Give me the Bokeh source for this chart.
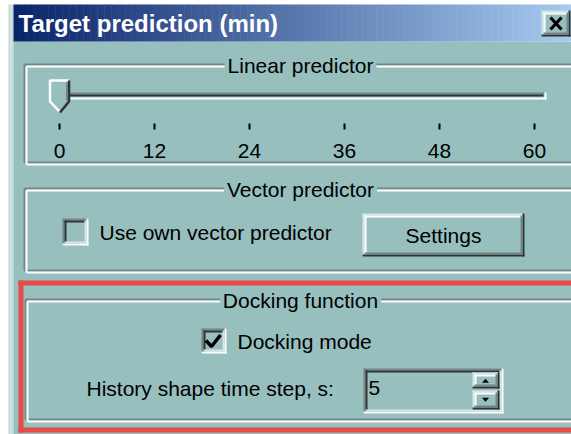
import numpy as np
from bokeh.plotting import figure
from bokeh.models import Range1d
from bokeh.core.properties import value
from bokeh.embed import file_html
from bokeh.resources import INLINE

# ---------------- content (data) ----------------
dialog_title = "Target prediction (min)"
group_titles = ["Linear predictor", "Vector predictor", "Docking function"]
slider_ticks = [0, 12, 24, 36, 48, 60]
slider_tick_labels = ["0", "12", "24", "36", "48", "60"]
slider_value = 0
checkbox_labels = ["Use own vector predictor", "Docking mode"]
checkbox_checked = [False, True]
button_label = "Settings"
spin_label = "History shape time step, s:"
spin_value = 5

# ---------------- style ----------------
BG = "#97BFBE"
SHADOW = "#728685"
DARK = "#2E3434"
WHITE = "#FFFFFF"
LIGHT = "#D6E4E3"
RED = "#E64B47"
FONT = value("Liberation Sans")
FS = "21px"

p = figure(width=571, height=434, x_range=Range1d(0, 571), y_range=Range1d(434, 0),
           output_backend="svg", toolbar_location=None, min_border=0,
           x_axis_type=None, y_axis_type=None)
p.grid.visible = False
p.outline_line_color = None
p.background_fill_color = "white"
p.border_fill_color = "white"


def box(x0, y0, x1, y1, color):
    p.quad(left=[x0], right=[x1], top=[y0], bottom=[y1], fill_color=color, line_color=None)


def seg(x0, y0, x1, y1, color, w=2):
    p.segment(x0=[x0], y0=[y0], x1=[x1], y1=[y1], line_color=color, line_width=w)


def bevel(x0, y0, x1, y1, tl_out, tl_in, br_out, br_in):
    seg(x0, y0 + 1, x1, y0 + 1, tl_out)
    seg(x0 + 1, y0, x0 + 1, y1, tl_out)
    seg(x0 + 2, y0 + 3, x1 - 2, y0 + 3, tl_in)
    seg(x0 + 3, y0 + 2, x0 + 3, y1 - 2, tl_in)
    seg(x0, y1 - 1, x1, y1 - 1, br_out)
    seg(x1 - 1, y0, x1 - 1, y1, br_out)
    seg(x0 + 2, y1 - 3, x1 - 2, y1 - 3, br_in)
    seg(x1 - 3, y0 + 2, x1 - 3, y1 - 2, br_in)


def raised(x0, y0, x1, y1):
    bevel(x0, y0, x1, y1, LIGHT, WHITE, DARK, SHADOW)


def sunken(x0, y0, x1, y1):
    bevel(x0, y0, x1, y1, SHADOW, DARK, WHITE, LIGHT)


def etched(x0, y0, x1, y1, title):
    for off, c in ((0, SHADOW), (2, WHITE)):
        seg(x0 + off, y0 + off, x1, y0 + off, c)
        seg(x0 + off, y0 + off, x0 + off, y1 + off, c)
        seg(x0 + off, y1 + off, x1, y1 + off, c)
    p.text(x=[300], y=[y0 + 1], text=[title], text_font=FONT, text_font_size=FS,
           text_align="center", text_baseline="middle", text_color="black",
           background_fill_color=BG, padding=3)


# window frame and client area
box(8, 4, 13, 434, "#C3D7D6")
box(10, 4, 11, 434, "#E6EFEE")
box(13, 41, 571, 434, BG)

# title bar gradient
n = 160
edges = np.linspace(13, 571, n + 1)
c0 = np.array([0x0A, 0x24, 0x6A])
c1 = np.array([0xA6, 0xCA, 0xF0])
cols = []
for i in range(n):
    t = i / (n - 1)
    c = (c0 + (c1 - c0) * t).astype(int)
    cols.append("#%02x%02x%02x" % tuple(c))
p.quad(left=edges[:-1], right=edges[1:] + 0.5, top=4, bottom=41, fill_color=cols, line_color=None)
p.text(x=[18], y=[23], text=[dialog_title], text_font=FONT, text_font_size="24px",
       text_font_style="bold", text_align="left", text_baseline="middle", text_color="white")

# close button
box(541, 10, 570, 36, BG)
raised(541, 10, 570, 36)
seg(550, 17, 561, 29, "black", 3.2)
seg(561, 17, 550, 29, "black", 3.2)

# ---------------- Linear predictor ----------------
etched(24, 64, 580, 162, group_titles[0])
tx0, tx1 = 59, 534
vmin, vmax = slider_ticks[0], slider_ticks[-1]


def xv(v):
    return tx0 + (v - vmin) / (vmax - vmin) * (tx1 - tx0)


# track
seg(50, 93, 544, 93, SHADOW)
seg(50, 95, 543, 95, DARK)
seg(50, 98, 546, 98, WHITE)
seg(545, 92, 545, 99, WHITE)

# ticks and labels
tick_x = [xv(v) for v in slider_ticks]
p.segment(x0=tick_x, y0=[123] * len(tick_x), x1=tick_x, y1=[129] * len(tick_x),
          line_color="black", line_width=2)
p.text(x=tick_x, y=[150] * len(tick_x), text=slider_tick_labels, text_font=FONT,
       text_font_size=FS, text_align="center", text_baseline="middle", text_color="black")

# thumb
cx = xv(slider_value)
px = [cx - 10.5, cx + 10.5, cx + 10.5, cx, cx - 10.5]
py = [79, 79, 101, 112, 101]
p.patch(px, py, fill_color=BG, line_color=None)
p.line([cx, cx - 9.5, cx - 9.5, cx + 9.5], [111, 101, 80, 80], line_color=WHITE, line_width=2.5)
p.line([cx + 9.5, cx + 9.5, cx + 0.5], [80, 101, 112], line_color=DARK, line_width=2.5)
p.line([cx + 7.5, cx + 7.5], [82, 100], line_color=SHADOW, line_width=2)

# ---------------- Vector predictor ----------------
etched(24, 188, 580, 270, group_titles[1])


def checkbox(x0, y0, x1, y1, checked, label):
    box(x0, y0, x1, y1, BG)
    sunken(x0, y0, x1, y1)
    if checked:
        p.line([x0 + 4.5, x0 + 10, x0 + 19], [y0 + 12, y0 + 18, y0 + 6.5],
               line_color="black", line_width=3.5)
    p.text(x=[x1 + 11], y=[(y0 + y1) / 2], text=[label], text_font=FONT, text_font_size=FS,
           text_align="left", text_baseline="middle", text_color="black")


checkbox(62, 218, 88, 245, checkbox_checked[0], checkbox_labels[0])

raised(362, 213, 524, 256)
p.text(x=[443], y=[235], text=[button_label], text_font=FONT, text_font_size=FS,
       text_align="center", text_baseline="middle", text_color="black")

# ---------------- highlight ----------------
box(18, 280, 575, 285, RED)
box(18, 280, 23, 432, RED)
box(18, 427, 575, 432, RED)

# ---------------- Docking function ----------------
etched(25, 299, 580, 419, group_titles[2])
checkbox(201, 328, 226, 353, checkbox_checked[1], checkbox_labels[1])

p.text(x=[86], y=[388], text=[spin_label], text_font=FONT, text_font_size=FS,
       text_align="left", text_baseline="middle", text_color="black")
sunken(363, 368, 503, 413)
p.text(x=[368], y=[387], text=[str(spin_value)], text_font=FONT, text_font_size=FS,
       text_align="left", text_baseline="middle", text_color="black")
for (y0, y1, up) in ((372, 388, True), (390, 409, False)):
    box(472, y0, 499, y1, BG)
    raised(472, y0, 499, y1)
    yc = (y0 + y1) / 2
    if up:
        p.patch([482, 488, 485], [yc + 2, yc + 2, yc - 1.5], fill_color="black", line_color="black", line_width=0.5)
    else:
        p.patch([482, 488, 485], [yc - 2, yc - 2, yc + 1.5], fill_color="black", line_color="black", line_width=0.5)

open("out.html", "w").write(file_html(p, INLINE))
